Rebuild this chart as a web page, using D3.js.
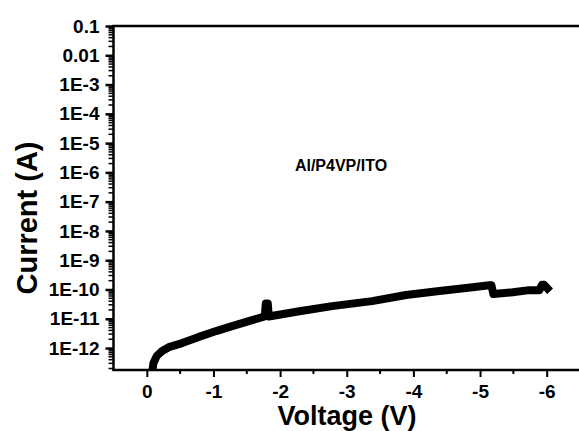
<!DOCTYPE html>
<html><head><meta charset="utf-8">
<script src="https://cdn.jsdelivr.net/npm/d3@7"></script>
<style>body{margin:0;background:#fff;}svg{display:block;font-family:"Liberation Sans",Arial,sans-serif;}</style>
</head><body>
<svg id="c" width="579" height="431"></svg>
<script>
const voltage = [-0.05,-0.08,-0.10,-0.15,-0.23,-0.33,-0.53,-0.78,-1.04,-1.28,-1.53,-1.77,-1.785,-1.815,-1.83,-2.29,-2.78,-3.38,-3.89,-4.39,-4.89,-5.14,-5.17,-5.20,-5.49,-5.74,-5.89,-5.93,-5.96,-6.01];
const current = [1e-13,1.5e-13,3.1e-13,5.4e-13,7.9e-13,1.07e-12,1.48e-12,2.4e-12,3.8e-12,5.6e-12,8.3e-12,1.2e-11,3.3e-11,3.3e-11,1.2e-11,1.8e-11,2.7e-11,4.0e-11,6.5e-11,8.9e-11,1.2e-10,1.4e-10,1.4e-10,7.0e-11,8.1e-11,9.5e-11,9.5e-11,1.45e-10,1.45e-10,1.1e-10];
const xTicks = [0,-1,-2,-3,-4,-5,-6];
const xTickLabels = ["0","-1","-2","-3","-4","-5","-6"];
const yTicks = [1e-1,1e-2,1e-3,1e-4,1e-5,1e-6,1e-7,1e-8,1e-9,1e-10,1e-11,1e-12];
const yTickLabels = ["0.1","0.01","1E-3","1E-4","1E-5","1E-6","1E-7","1E-8","1E-9","1E-10","1E-11","1E-12"];
const annotation = "Al/P4VP/ITO";

const svg = d3.select("#c");
const L=113.5, R=580, T=26, B=370;
const x = d3.scaleLinear().domain([0.5,-6.5]).range([L,R]);
const y = d3.scaleLog().domain([Math.pow(10,-12.75),0.1]).range([B,T]);

svg.append("clipPath").attr("id","clip").append("rect").attr("x",L).attr("y",T).attr("width",R-L).attr("height",B-T);

// data
const line = d3.line().x((d,i)=>x(voltage[i])).y((d,i)=>y(current[i]));
svg.append("path").datum(voltage).attr("d",line).attr("clip-path","url(#clip)")
  .attr("fill","none").attr("stroke","#000").attr("stroke-width",8)
  .attr("stroke-linejoin","round").attr("stroke-linecap","square");

// axes lines
svg.append("line").attr("x1",L).attr("x2",L).attr("y1",T-1).attr("y2",B+1).attr("stroke","#000").attr("stroke-width",2.5);
svg.append("line").attr("x1",L-1).attr("x2",579).attr("y1",B).attr("y2",B).attr("stroke","#000").attr("stroke-width",2.5);
svg.append("line").attr("x1",L-1).attr("x2",579).attr("y1",T).attr("y2",T).attr("stroke","#000").attr("stroke-width",2.5);

// x ticks
const xAxis = d3.axisBottom(x).tickValues(xTicks).tickSize(7).tickFormat((d,i)=>xTickLabels[i]);
const gx = svg.append("g").attr("transform",`translate(0,${B})`).call(xAxis);
gx.select(".domain").remove();
gx.selectAll(".tick line").attr("stroke-width",2);
gx.selectAll(".tick text").attr("font-size",19).attr("font-weight","bold").attr("fill","#000").attr("dy",0).attr("y",28);
const xMinor = [0.5,-0.5,-1.5,-2.5,-3.5,-4.5,-5.5,-6.5].filter(v=>x(v)>L+1&&x(v)<R-1);
svg.selectAll(".xm").data(xMinor).enter().append("line").attr("x1",d=>x(d)).attr("x2",d=>x(d)).attr("y1",B).attr("y2",B+4).attr("stroke","#000").attr("stroke-width",2);

// y ticks
const yAxis = d3.axisLeft(y).tickValues(yTicks).tickSize(8).tickFormat((d,i)=>yTickLabels[i]);
const gy = svg.append("g").attr("transform",`translate(${L},0)`).call(yAxis);
gy.select(".domain").remove();
gy.selectAll(".tick line").attr("stroke-width",2.5);
gy.selectAll(".tick text").attr("font-size",19).attr("font-weight","bold").attr("fill","#000").attr("x",-14);
const yMinor=[];
for(let e=-13;e<=-2;e++){for(let m=2;m<=9;m++){const v=m*Math.pow(10,e); if(y(v)<B-1&&y(v)>T+1) yMinor.push(v);}}
svg.selectAll(".ym").data(yMinor).enter().append("line").attr("x1",L-5).attr("x2",L).attr("y1",d=>y(d)).attr("y2",d=>y(d)).attr("stroke","#000").attr("stroke-width",1.5);

// labels
svg.append("text").attr("x",347).attr("y",425).attr("text-anchor","middle").attr("font-size",27).attr("font-weight","bold").text("Voltage (V)");
svg.append("text").attr("transform","translate(37,218) rotate(-90)").attr("text-anchor","middle").attr("font-size",29).attr("font-weight","bold").text("Current (A)");
svg.append("text").attr("x",341).attr("y",171).attr("text-anchor","middle").attr("font-size",16).attr("font-weight","bold").text(annotation);
</script>
</body></html>
